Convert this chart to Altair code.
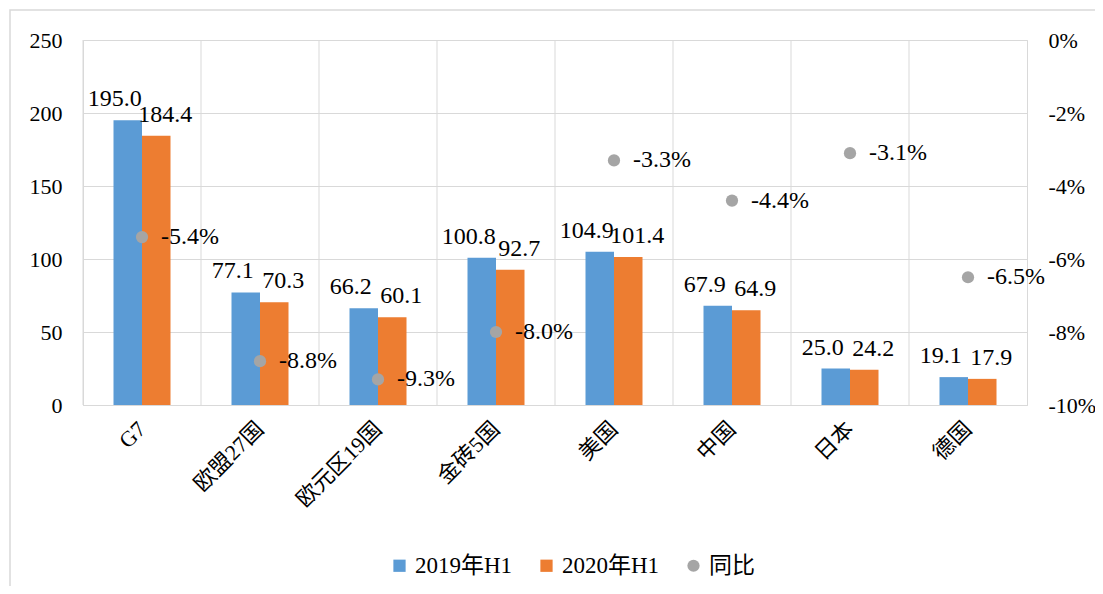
import altair as alt
import pandas as pd

categories = ["G7", "欧盟27国", "欧元区19国", "金砖5国", "美国", "中国", "日本", "德国"]
series_names = ["2019年H1", "2020年H1", "同比"]
values_2019 = [195.0, 77.1, 66.2, 100.8, 104.9, 67.9, 25.0, 19.1]
values_2020 = [184.4, 70.3, 60.1, 92.7, 101.4, 64.9, 24.2, 17.9]
yoy_pct = [-5.4, -8.8, -9.3, -8.0, -3.3, -4.4, -3.1, -6.5]

FONT = "Liberation Serif, Noto Sans CJK SC"
BLUE, ORANGE, GRAY = "#5B9BD5", "#ED7D31", "#A5A5A5"
GRID = "#D9D9D9"

rows = []
for c, a, b in zip(categories, values_2019, values_2020):
    rows.append({"cat": c, "series": series_names[0], "value": a})
    rows.append({"cat": c, "series": series_names[1], "value": b})
bars_df = pd.DataFrame(rows)
pts_df = pd.DataFrame({"cat": categories, "series": series_names[2], "yoy": yoy_pct})
cats_df = pd.DataFrame({"cat": categories})

x_axis = alt.Axis(title=None, labelAngle=-45, labelAlign="right", labelBaseline="middle",
                  labelFont=FONT, labelFontSize=22, labelColor="#000000", labelPadding=20,
                  ticks=False, grid=False, domainColor=GRID)
x_scale = alt.Scale(domain=categories, paddingInner=0, paddingOuter=0)

color = alt.Color("series:N", title=None,
                  scale=alt.Scale(domain=series_names, range=[BLUE, ORANGE, GRAY]),
                  legend=alt.Legend(orient="none", legendX=305, legendY=514, direction="horizontal",
                                    labelFont=FONT, labelFontSize=23, labelColor="#000000",
                                    labelLimit=0, symbolSize=150, symbolStrokeWidth=0,
                                    columnPadding=22, labelOffset=4))
shape = alt.Shape("series:N", title=None,
                  scale=alt.Scale(domain=series_names, range=["square", "square", "circle"]))

# two empty slots on either side keep the pair of bars narrow and centred in each category
offset_domain = ["_l", series_names[0], series_names[1], "_r"]
xo = alt.XOffset("series:N", scale=alt.Scale(domain=offset_domain, paddingOuter=0.07, paddingInner=0))
y_left = alt.Y("value:Q", scale=alt.Scale(domain=[0, 250]),
               axis=alt.Axis(title=None, values=[0, 50, 100, 150, 200, 250], labelFont=FONT,
                             labelFontSize=22, labelColor="#000000", labelPadding=21,
                             ticks=False, domain=False, gridColor=GRID, grid=True))

frame = alt.Chart(pd.DataFrame({"frame": [0]})).mark_rect(fill=None, stroke=GRID, strokeWidth=1.5).encode(
    x=alt.value(-73), x2=alt.value(1100), y=alt.value(-30), y2=alt.value(700)
)
rules = alt.Chart(cats_df).mark_rule(color=GRID, strokeWidth=1).encode(
    x=alt.X("cat:N", scale=x_scale, axis=x_axis, bandPosition=0)
)
bars = alt.Chart(bars_df).mark_bar().encode(
    x=alt.X("cat:N", scale=x_scale, axis=x_axis),
    xOffset=xo,
    y=y_left,
    color=color,
)
text_common = dict(font=FONT, fontSize=24, color="#000000", baseline="alphabetic", dy=-14)
bar_text_a = alt.Chart(bars_df).transform_filter(
    alt.datum.series == series_names[0]
).mark_text(dx=-13, **text_common).encode(
    x=alt.X("cat:N", scale=x_scale, axis=x_axis),
    xOffset=xo,
    y=y_left,
    text=alt.Text("value:Q", format=".1f"),
)
bar_text_b = alt.Chart(bars_df).transform_filter(
    alt.datum.series == series_names[1]
).mark_text(dx=9, **text_common).encode(
    x=alt.X("cat:N", scale=x_scale, axis=x_axis),
    xOffset=xo,
    y=y_left,
    text=alt.Text("value:Q", format=".1f"),
)
left = alt.layer(rules, bars, bar_text_a, bar_text_b)

y_right = alt.Y("yoy:Q", scale=alt.Scale(domain=[-10, 0]),
                axis=alt.Axis(title=None, orient="right", values=[-10, -8, -6, -4, -2, 0],
                              labelExpr="datum.value + '%'", labelFont=FONT, labelFontSize=22,
                              labelColor="#000000", labelPadding=21, ticks=False, domain=False,
                              grid=False))
points = alt.Chart(pts_df).mark_point(filled=True, size=150, opacity=1).encode(
    x=alt.X("cat:N", scale=x_scale, axis=x_axis),
    y=y_right,
    color=color,
    shape=shape,
)
pt_text = alt.Chart(pts_df).transform_calculate(
    lbl="replace(format(datum.yoy, '.1f'), '−', '-') + '%'"
).mark_text(font=FONT, fontSize=24, color="#000000", align="left", baseline="middle", dx=19).encode(
    x=alt.X("cat:N", scale=x_scale, axis=x_axis),
    y=y_right,
    text="lbl:N",
)
right = alt.layer(points, pt_text)

chart = alt.layer(frame, left, right).resolve_scale(y="independent").properties(
    width=944, height=365,
    autosize=alt.AutoSizeParams(type="none"),
    padding={"left": 75, "top": 32, "right": 68, "bottom": 181},
).configure_view(stroke=GRID, strokeWidth=1)

chart.save("out.html", embed_options={"renderer": "svg", "actions": False})
